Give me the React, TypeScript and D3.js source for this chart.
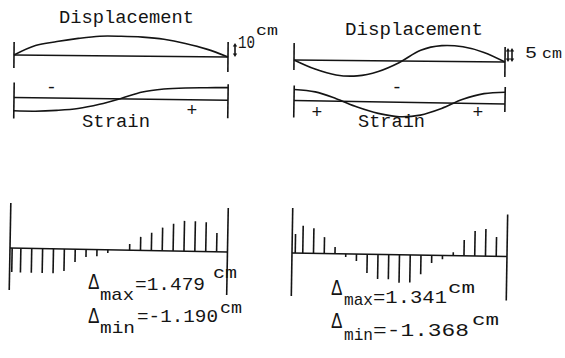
import React from 'react';
import * as d3 from 'd3';

// ---- data ----
// stations along each span: 0 = left support, 20 = right support
const curveStations = [0, 2, 4, 6, 8, 10, 12, 14, 16, 18, 20];
// upper panels: displacement (cm) and strain (relative units)
const dispLeft = [0, 6.9, 9.9, 12.3, 14.0, 14.1, 13.6, 12.2, 9.4, 5.5, 0];
const strainLeft = [-13.3, -13.4, -12.3, -10.2, -5.7, 0.4, 7.2, 10.4, 11.8, 12.3, 12.7];
const dispRight = [0, -3.18, -5.21, -5.46, -3.79, -0.5, 3.93, 5.64, 5.29, 3.36, 0];
const strainRight = [11, 9.0, 2.5, -5.5, -11.5, -14.5, -12.5, -5.5, 4.0, 10.0, 11.8];

// lower panels: nodal deflection bars (cm)
const barStationsLeft = [0.2, 1, 2, 3, 4, 5, 6, 7, 8, 9, 10, 11, 12, 13, 14, 15, 16, 17, 18, 19];
const deflLeft = [-1.17, -1.19, -1.19, -1.19, -1.19, -1.07, -0.62, -0.37, -0.32, -0.16, 0, 0.3, 0.66, 0.87, 1.13, 1.33, 1.479, 1.47, 1.43, 0.92];
const barStationsRight = [0.3, 1, 2, 3, 4, 5, 6, 7, 8, 9, 10, 11, 12, 13, 14, 15, 16, 17, 18, 19];
const deflRight = [0.93, 1.341, 1.23, 0.8, 0.33, -0.15, -0.34, -0.92, -1.2, -1.2, -1.368, -1.35, -0.93, -0.38, -0.18, 0.17, 0.77, 1.22, 1.33, 0.94];

const statsLeft = { max: '=1.479', min: '=-1.190' };
const statsRight = { max: '=1.341', min: '=-1.368' };
const scaleLabels = { left: '10', right: '5', unit: 'cm' };

const INK = '#141414';
const FONT = '"Liberation Mono", "DejaVu Sans Mono", monospace';
const SW = 1.6;

type Pt = { s: number; v: number };
const zipPts = (s: number[], v: number[]): Pt[] => s.map((d, i) => ({ s: d, v: v[i] }));

function Curve({ xs, ys, pts }: { xs: d3.ScaleLinear<number, number>; ys: d3.ScaleLinear<number, number>; pts: Pt[] }) {
  const line = d3.line<Pt>().x(d => xs(d.s)).y(d => ys(d.v)).curve(d3.curveCatmullRom.alpha(0.5));
  return <path d={line(pts) || ''} fill="none" stroke={INK} strokeWidth={SW} />;
}

function Frame({ xs, y0, left, right }: { xs: d3.ScaleLinear<number, number>; y0: number; left: [number, number]; right: [number, number] }) {
  const [a, b] = xs.range();
  return (
    <g stroke={INK} strokeWidth={SW}>
      <line x1={a} x2={b} y1={y0} y2={y0} />
      <line x1={a} x2={a} y1={y0 + left[0]} y2={y0 + left[1]} />
      <line x1={b} x2={b} y1={y0 + right[0]} y2={y0 + right[1]} />
    </g>
  );
}

function T({ x, y, len, fs, children, anchor }: any) {
  return (
    <text x={x} y={y} fontSize={fs} fontFamily={FONT} fill={INK}
      textLength={len} lengthAdjust={len ? 'spacingAndGlyphs' : undefined}
      textAnchor={anchor || 'start'}>{children}</text>
  );
}

function VArrow({ x, y1, y2 }: { x: number; y1: number; y2: number }) {
  const h = 3.5, w = 2.2;
  return (
    <g>
      <line x1={x} x2={x} y1={y1 + 2} y2={y2 - 2} stroke={INK} strokeWidth={1.6} />
      <path d={`M${x - w},${y1 + h} L${x},${y1} L${x + w},${y1 + h} Z`} fill={INK} />
      <path d={`M${x - w},${y2 - h} L${x},${y2} L${x + w},${y2 - h} Z`} fill={INK} />
    </g>
  );
}

export default function App() {
  // upper-left
  const xTL = d3.scaleLinear().domain([0, 20]).range([14, 228]);
  const yTLd = d3.scaleLinear().domain([0, 10]).range([55, 55 - 14]);
  const yTLs = d3.scaleLinear().domain([0, 10]).range([97.5, 97.5 - 10]);
  // upper-right
  const xTR = d3.scaleLinear().domain([0, 20]).range([294, 505]);
  const yTRd = d3.scaleLinear().domain([0, 5]).range([60, 60 - 14]);
  const yTRs = d3.scaleLinear().domain([0, 10]).range([100.5, 100.5 - 10]);
  // lower
  const xBL = d3.scaleLinear().domain([0, 20]).range([10, 227.5]);
  const yBL = d3.scaleLinear().domain([0, 1]).range([248, 248 - 20.5]);
  const xBR = d3.scaleLinear().domain([0, 20]).range([292, 507]);
  const yBR = d3.scaleLinear().domain([0, 1]).range([253, 253 - 20.5]);

  const barsL = zipPts(barStationsLeft, deflLeft);
  const barsR = zipPts(barStationsRight, deflRight);

  return (
    <svg width={565} height={358} viewBox="0 0 565 358"
      style={{ position: 'absolute', left: 0, top: 0, background: '#fff' }}>
      <rect x={0} y={0} width={565} height={358} fill="#fff" />

      {/* ---------- upper left ---------- */}
      <T x={59} y={23} len={135} fs={18}>Displacement</T>
      <g transform={`rotate(0.54, ${xTL(0)}, ${yTLd(0)})`}>
        <Frame xs={xTL} y0={yTLd(0)} left={[-13, 13]} right={[-15, 15]} />
        <Curve xs={xTL} ys={yTLd} pts={zipPts(curveStations, dispLeft)} />
      </g>
      <VArrow x={235} y1={43} y2={57} />
      <T x={238} y={48} len={17} fs={18}>{scaleLabels.left}</T>
      <T x={256} y={35} len={22} fs={15}>{scaleLabels.unit}</T>

      <g transform={`rotate(0.75, ${xTL(0)}, ${yTLs(0)})`}>
        <Frame xs={xTL} y0={yTLs(0)} left={[-15, 21]} right={[-16, 18]} />
        <Curve xs={xTL} ys={yTLs} pts={zipPts(curveStations, strainLeft)} />
      </g>
      <T x={51.5} y={92.5} fs={18} anchor="middle">-</T>
      <T x={192} y={116} fs={18} anchor="middle">+</T>
      <T x={82} y={127} len={68} fs={18}>Strain</T>

      {/* ---------- upper right ---------- */}
      <T x={345} y={35} len={138} fs={18}>Displacement</T>
      <g transform={`rotate(0.55, ${xTR(0)}, ${yTRd(0)})`}>
        <Frame xs={xTR} y0={yTRd(0)} left={[-17, 10]} right={[-15, 15]} />
        <Curve xs={xTR} ys={yTRd} pts={zipPts(curveStations, dispRight)} />
      </g>
      <VArrow x={508} y1={48} y2={62} />
      <VArrow x={512} y1={48} y2={62} />
      <T x={525} y={58} len={12} fs={16}>{scaleLabels.right}</T>
      <T x={542} y={58} len={20} fs={15}>{scaleLabels.unit}</T>

      <g transform={`rotate(0.95, ${xTR(0)}, ${yTRs(0)})`}>
        <Frame xs={xTR} y0={yTRs(0)} left={[-15, 17]} right={[-17, 8]} />
        <Curve xs={xTR} ys={yTRs} pts={zipPts(curveStations, strainRight)} />
      </g>
      <T x={317} y={118} fs={18} anchor="middle">+</T>
      <T x={397} y={92.5} fs={18} anchor="middle">-</T>
      <T x={478} y={118} fs={18} anchor="middle">+</T>
      <T x={358} y={127} len={67} fs={18}>Strain</T>

      {/* ---------- lower left ---------- */}
      <T x={88.5} y={289} len={10.5} fs={22}>Δ</T>
      <T x={100} y={300} len={34} fs={17}>max</T>
      <T x={135} y={290} len={70} fs={19}>{statsLeft.max}</T>
      <T x={213} y={278} len={24} fs={16}>cm</T>
      <T x={88.5} y={323} len={10.5} fs={22}>Δ</T>
      <T x={100} y={333} len={35} fs={17}>min</T>
      <T x={137} y={322} len={81} fs={19}>{statsLeft.min}</T>
      <T x={220} y={313} len={22} fs={16}>cm</T>
      <g transform={`rotate(1.05, ${xBL(0)}, ${yBL(0)})`}>
        <Frame xs={xBL} y0={yBL(0)} left={[-45, 42]} right={[-44, 43]} />
        <g stroke={INK} strokeWidth={SW}>
          {barsL.map((d, i) => (
            <line key={i} x1={xBL(d.s)} x2={xBL(d.s)} y1={yBL(0)} y2={yBL(d.v)} />
          ))}
        </g>
      </g>

      {/* ---------- lower right ---------- */}
      <T x={331.5} y={295} len={10.5} fs={22}>Δ</T>
      <T x={344} y={305} len={29} fs={17}>max</T>
      <T x={373} y={303} len={74} fs={19}>{statsRight.max}</T>
      <T x={448} y={293} len={27} fs={16}>cm</T>
      <T x={331.5} y={328} len={10.5} fs={22}>Δ</T>
      <T x={344} y={340} len={29} fs={17}>min</T>
      <T x={373} y={336} len={96} fs={19}>{statsRight.min}</T>
      <T x={472} y={325} len={27} fs={16}>cm</T>
      <g transform={`rotate(0.94, ${xBR(0)}, ${yBR(0)})`}>
        <Frame xs={xBR} y0={yBR(0)} left={[-45, 43]} right={[-42, 44]} />
        <g stroke={INK} strokeWidth={SW}>
          {barsR.map((d, i) => (
            <line key={i} x1={xBR(d.s)} x2={xBR(d.s)} y1={yBR(0)} y2={yBR(d.v)} />
          ))}
        </g>
      </g>
    </svg>
  );
}
